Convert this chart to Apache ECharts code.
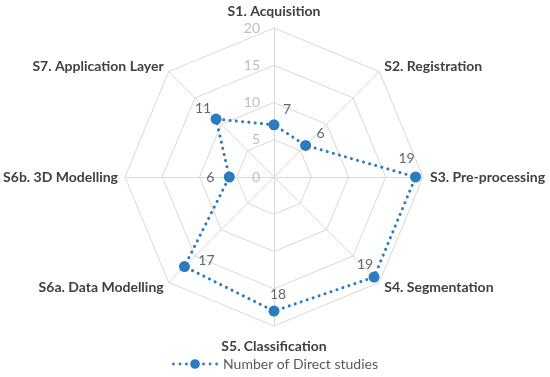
<!DOCTYPE html>
<html>
<head>
<meta charset="utf-8">
<script src="https://cdn.jsdelivr.net/npm/echarts@6/dist/echarts.min.js"></script>
<style>
html,body{margin:0;padding:0;background:#fff;}
#chart{width:550px;height:377px;}
</style>
</head>
<body>
<div id="chart"></div>
<script>
const indicatorNames = ['S1. Acquisition', 'S2. Registration', 'S3. Pre-processing', 'S4. Segmentation', 'S5. Classification', 'S6a. Data Modelling', 'S6b. 3D Modelling', 'S7. Application Layer'];
const directStudies = [7, 6, 19, 19, 18, 17, 6, 11];
const axisMin = 0;
const axisMax = 20;
const seriesName = 'Number of Direct studies';

// label offsets (style only)
const labelOffsets = [[13, -15], [15, -12], [-9, -19], [-9, -13], [4, -17], [22, -6], [-19, 0], [-13, -11]];

const FONT = 'Lato';
const BLUE = '#2B7BC0';
const CENTER = [274, 177];
const RADIUS = 149;

// ECharts radar places indicators counter-clockwise; reorder to be clockwise
const order = indicatorNames.map((_, i) => (indicatorNames.length - i) % indicatorNames.length);

const indicators = order.map((i, k) => {
  const ind = { name: indicatorNames[i], min: axisMin, max: axisMax };
  if (k === 0) {
    ind.axisLabel = { show: true, color: '#BFBFBF', fontSize: 14, fontFamily: FONT, margin: 14 };
  }
  return ind;
});

function circ(cx, cy, r) {
  return 'M' + (cx - r) + ',' + cy + 'a' + r + ',' + r + ' 0 1,0 ' + (2 * r) + ',0a' + r + ',' + r + ' 0 1,0 ' + (-2 * r) + ',0Z';
}
const legendIcon = 'path://' + [circ(1.5, 5, 1.4), circ(8, 5, 1.4), circ(14.5, 5, 1.4), circ(23, 5, 4.8), circ(31.5, 5, 1.4), circ(38, 5, 1.4), circ(44.5, 5, 1.4)].join('');

const nameStyle = { color: '#404040', fontWeight: 'bold', fontSize: 14, fontFamily: FONT };

const chart = echarts.init(document.getElementById('chart'), null, { renderer: 'canvas' });
chart.setOption({
  animation: false,
  backgroundColor: '#fff',
  textStyle: { fontFamily: FONT },
  legend: {
    data: [{ name: seriesName, icon: legendIcon }],
    left: 'center',
    top: 352,
    itemWidth: 46,
    itemHeight: 10,
    itemGap: 4,
    textStyle: { color: '#595959', fontSize: 14, fontFamily: FONT },
    selectedMode: false
  },
  radar: {
    center: CENTER,
    radius: RADIUS,
    startAngle: 90,
    splitNumber: 4,
    shape: 'polygon',
    nameGap: 7,
    indicator: indicators,
    axisName: {
      color: '#404040', fontWeight: 'bold', fontSize: 14, fontFamily: FONT,
      formatter: function (name) {
        if (name === indicatorNames[0]) return '{top|' + name + '}';
        if (name === indicatorNames[4]) return '{bot|' + name + '}';
        return name;
      },
      rich: {
        top: Object.assign({ padding: [0, 0, 3, 0] }, nameStyle),
        bot: Object.assign({ padding: [6, 0, 0, 0] }, nameStyle)
      }
    },
    splitLine: { lineStyle: { color: '#D9D9D9', width: 1 } },
    splitArea: { show: false },
    axisLine: { lineStyle: { color: '#D9D9D9', width: 1 } },
    axisTick: { show: false },
    axisLabel: { show: false }
  },
  polar: { center: CENTER, radius: RADIUS },
  angleAxis: { type: 'category', data: indicatorNames, startAngle: 90, clockwise: true, boundaryGap: false, show: false },
  radiusAxis: { min: axisMin, max: axisMax, show: false },
  series: [
    {
      type: 'radar',
      name: seriesName,
      symbol: 'circle',
      symbolSize: 11,
      itemStyle: { color: BLUE },
      lineStyle: { color: BLUE, width: 3, type: [0.1, 6.2], cap: 'round' },
      data: [{ name: seriesName, value: order.map(i => directStudies[i]) }],
      z: 3
    },
    {
      type: 'scatter',
      name: 'labels',
      coordinateSystem: 'polar',
      symbolSize: 1,
      silent: true,
      itemStyle: { color: 'rgba(0,0,0,0)' },
      label: {
        show: true,
        position: 'inside',
        color: '#404040',
        fontSize: 14,
        fontFamily: FONT,
        formatter: p => String(p.value[0])
      },
      data: directStudies.map((v, i) => ({ value: [v, i], label: { offset: labelOffsets[i] } })),
      z: 5
    }
  ]
});
</script>
</body>
</html>
